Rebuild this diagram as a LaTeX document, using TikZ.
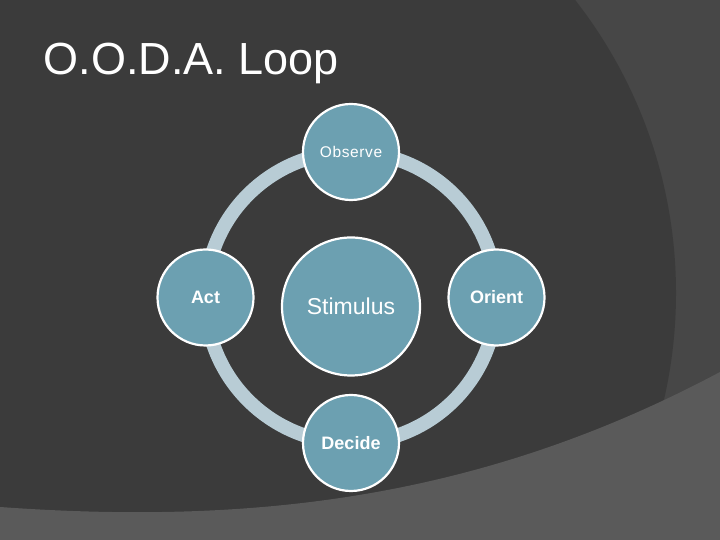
\documentclass[tikz,border=0pt]{standalone}
\usepackage{fontspec}
\setmainfont{Liberation Sans}
\usetikzlibrary{positioning}
\definecolor{bgdark}{HTML}{3B3B3B}
\definecolor{bgmid}{HTML}{474747}
\definecolor{bgband}{HTML}{5A5A5A}
\definecolor{ringblue}{HTML}{B8CCD5}
\definecolor{nodeblue}{HTML}{6CA0B1}

\begin{document}
\begin{tikzpicture}[x=1pt, y=1pt, node distance=145.5pt]
	\tikzstyle{phase} = [circle, draw=white, line width=2.2pt, fill=nodeblue, text=white, minimum size=96pt, inner sep=0pt, font=\bfseries\fontsize{18}{20}\selectfont];
	\tikzstyle{hub} = [phase, minimum size=138pt, font=\fontsize{23}{25}\selectfont];

	\useasboundingbox (0,0) rectangle (720,540);
	\fill [bgmid] (0,0) rectangle (720,540);
	\begin{scope}
		\clip (0,0) rectangle (720,540);
		\fill [bgdark] (200,247) circle (476);
	\end{scope}
	\fill [bgband] (0,0) -- (0,33) .. controls (250,15) and (480,40) .. (720,168) -- (720,0) -- cycle;

	\coordinate (c) at (351,242.5);
	\draw [ringblue, line width=14pt] (c) circle (145.5);

	\node [hub]                     (stimulus) at (351,233.5)   {Stimulus};
	\node [phase, font=\fontsize{15.5}{17}\selectfont] (observe) [above of = c] {\addfontfeature{LetterSpace=4}Observe};
	\node [phase]                   (orient)   [right of = c]   {Orient};
	\node [phase]                   (decide)   [below of = c]   {Decide};
	\node [phase]                   (act)      [left of = c]    {Act};

	\node [anchor=base west, text=white, font=\fontsize{45}{48}\selectfont] (title) at (40,465) {O.O.D.A. Loop};
\end{tikzpicture}
\end{document}
